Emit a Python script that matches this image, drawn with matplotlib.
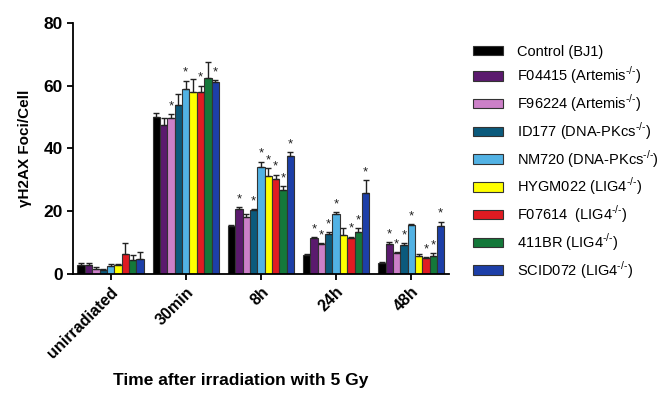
import numpy as np
import matplotlib.pyplot as plt

plt.rcParams['font.family'] = ['Liberation Sans', 'DejaVu Sans']
plt.rcParams['mathtext.fontset'] = 'custom'
plt.rcParams['mathtext.rm'] = 'Liberation Sans'

ko = r'$^{\text{-/-}}$'
timepoints = ['unirradiated', '30min', '8h', '24h', '48h']
cell_lines = ['Control (BJ1)', 'F04415 (Artemis' + ko + ')', 'F96224 (Artemis' + ko + ')',
              'ID177 (DNA-PKcs' + ko + ')', 'NM720 (DNA-PKcs' + ko + ')', 'HYGM022 (LIG4' + ko + ')',
              'F07614  (LIG4' + ko + ')', '411BR (LIG4' + ko + ')', 'SCID072 (LIG4' + ko + ')']
colors = ['#000000', '#5b1a6e', '#cc80c8', '#0b5a7c', '#52b2e4', '#ffff00', '#e01b22', '#14783a', '#1d3fa8']

# mean foci per cell, one row per cell line, columns = timepoints
means = np.array([
    [3.0, 50.0, 15.3, 6.0, 3.4],
    [2.8, 47.5, 20.7, 11.4, 9.6],
    [1.6, 49.6, 18.0, 9.5, 6.6],
    [1.2, 53.8, 20.4, 12.7, 9.2],
    [2.6, 59.1, 34.0, 19.1, 15.5],
    [2.7, 57.9, 31.2, 12.4, 5.7],
    [6.3, 58.1, 30.2, 11.4, 5.0],
    [4.3, 62.5, 26.8, 13.3, 5.8],
    [4.8, 61.2, 37.6, 25.9, 15.4],
])
errs = np.array([
    [0.5, 1.3, 0.3, 0.4, 0.3],
    [0.7, 2.1, 0.6, 0.4, 0.5],
    [0.6, 1.3, 1.1, 0.4, 0.4],
    [0.3, 3.5, 0.3, 0.6, 0.6],
    [0.5, 2.5, 1.8, 0.6, 0.4],
    [0.6, 4.4, 2.5, 2.2, 0.7],
    [3.6, 1.9, 1.5, 0.5, 0.4],
    [1.7, 5.1, 1.2, 1.4, 0.9],
    [2.3, 0.6, 1.3, 4.0, 1.3],
])
# significance stars
stars = np.array([
    [0, 0, 0, 0, 0],
    [0, 0, 1, 1, 1],
    [0, 1, 0, 1, 1],
    [0, 0, 1, 1, 1],
    [0, 1, 1, 1, 1],
    [0, 0, 1, 0, 0],
    [0, 1, 1, 1, 1],
    [0, 0, 1, 1, 1],
    [0, 1, 1, 1, 1],
])

fig = plt.figure(figsize=(6.64, 3.97), dpi=100)
ax = fig.add_axes([0.11, 0.31, 0.566, 0.632])

x = np.arange(len(timepoints))
w = 0.098
for i in range(len(cell_lines)):
    pos = x + (i - 4) * w
    ax.bar(pos, means[i], w, color=colors[i], edgecolor='#333333', linewidth=0.8,
           label=cell_lines[i], zorder=2)
    ax.errorbar(pos, means[i], yerr=[np.zeros(len(x)), errs[i]], fmt='none',
                ecolor='#222222', elinewidth=1, capsize=2, capthick=1, zorder=3)
    for j in range(len(x)):
        if stars[i, j]:
            ax.text(pos[j], means[i, j] + errs[i, j] + 0.6, '*', ha='center', va='bottom',
                    fontsize=9.5, color='#222222')

ax.set_xlim(-0.5, 4.5)
ax.set_ylim(0, 80)
ax.set_yticks([0, 20, 40, 60, 80])
ax.set_xticks(x)
ax.set_xticklabels(timepoints, rotation=45, ha='right', rotation_mode='anchor',
                   fontweight='bold', fontsize=11.5)
for lab in ax.get_yticklabels():
    lab.set_fontweight('bold')
    lab.set_fontsize(12.5)
ax.spines['top'].set_visible(False)
ax.spines['right'].set_visible(False)
ax.spines['left'].set_linewidth(1.3)
ax.spines['bottom'].set_linewidth(1.3)
ax.tick_params(width=1.3, length=4)
ax.set_ylabel('γH2AX Foci/Cell', fontweight='bold', fontsize=11, labelpad=8)

fig.text(0.17, 0.03, 'Time after irradiation with 5 Gy', fontweight='bold', fontsize=12.5)

fig.legend(loc='upper left', bbox_to_anchor=(0.704, 0.902), frameon=False, fontsize=10.5,
           handlelength=2.06, handleheight=0.62, labelspacing=0.42, handletextpad=0.95,
           borderaxespad=0)

fig.savefig('out.png', dpi=100)
